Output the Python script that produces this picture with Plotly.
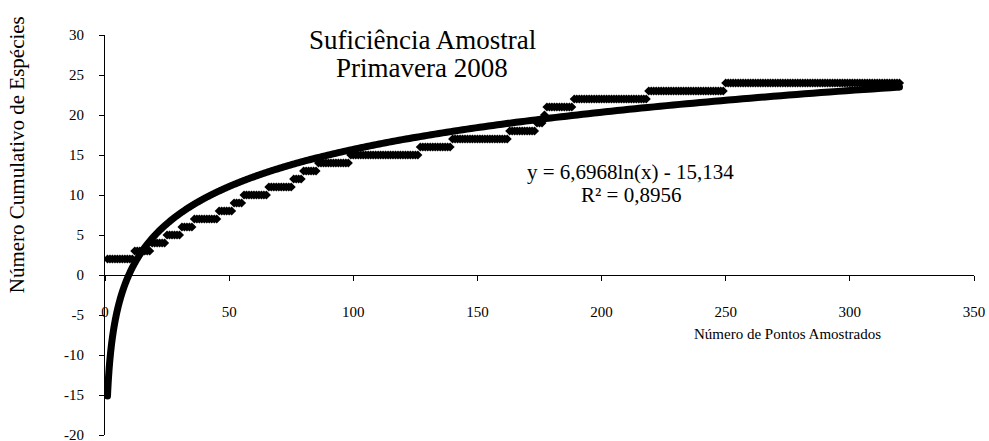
"""Suficiência amostral - curva cumulativa de espécies (Primavera 2008)."""

import numpy as np
import plotly.graph_objects as go

# cumulative species count, stored as levels and how many sample points stay on each level
nivel_especies = [2, 3, 4, 5, 6, 7, 8, 9, 10, 11, 12, 13, 14, 15, 16, 17, 18, 19, 20, 21, 22, 23, 24]
pontos_por_nivel = [11, 7, 6, 6, 5, 10, 6, 4, 10, 10, 4, 6, 13, 28, 13, 23, 11, 3, 1, 11, 30, 31, 71]

# logarithmic trendline reported on the chart
coef_a = 6.6968
coef_b = -15.134
r_quadrado = 0.8956

x_ticks = [0, 50, 100, 150, 200, 250, 300, 350]
y_ticks = [-20, -15, -10, -5, 0, 5, 10, 15, 20, 25, 30]
y_tick_labels = ['-20', '-15', '-10', '-5', '0', '5', '10', '15', '20', '25', '30']

especies = np.repeat(nivel_especies, pontos_por_nivel)
pontos = np.arange(1, len(especies) + 1)

# trendline sampled densely near x=1 where the log curve is steep
x_trend = np.geomspace(1, pontos[-1], 500)
y_trend = coef_a * np.log(x_trend) + coef_b

FONT = 'Liberation Serif'

fig = go.Figure()

fig.add_trace(go.Scatter(
    x=pontos,
    y=especies,
    mode='markers',
    marker=dict(symbol='diamond', size=7, color='black'),
    showlegend=False
))

fig.add_trace(go.Scatter(
    x=x_trend,
    y=y_trend,
    mode='lines',
    line=dict(color='black', width=7, simplify=False),
    showlegend=False
))

# round-looking ends of the trendline
fig.add_trace(go.Scatter(
    x=[x_trend[0], x_trend[-1]],
    y=[y_trend[0], y_trend[-1]],
    mode='markers',
    marker=dict(symbol='circle', size=7, color='black'),
    showlegend=False
))


def fmt(v, casas):
    return f'{v:.{casas}f}'.replace('.', ',')


eq_text = f'y = {fmt(coef_a, 4)}ln(x) - {fmt(-coef_b, 3)}'
r2_text = f'R² = {fmt(r_quadrado, 4)}'

fig.update_layout(
    width=989,
    height=441,
    margin=dict(l=105, r=15, t=35, b=6),
    plot_bgcolor='white',
    paper_bgcolor='white',
    font=dict(family=FONT, color='black'),
    xaxis=dict(
        range=[0, 350],
        tickvals=x_ticks,
        showgrid=False,
        zeroline=False,
        showline=True,
        linecolor='black',
        linewidth=1,
        ticks='outside',
        ticklen=5,
        tickcolor='black',
        anchor='free',
        position=0.4,
        automargin=False,
        ticklabelstandoff=18,
        ticklabeloverflow='allow',
        tickfont=dict(family=FONT, size=15, color='black')
    ),
    yaxis=dict(
        range=[-20, 30],
        tickvals=y_ticks,
        ticktext=y_tick_labels,
        showgrid=False,
        zeroline=False,
        showline=True,
        linecolor='black',
        linewidth=1,
        ticks='outside',
        ticklen=5,
        tickcolor='black',
        automargin=False,
        ticklabelstandoff=12,
        ticklabeloverflow='allow',
        tickfont=dict(family=FONT, size=15, color='black')
    ),
    annotations=[
        dict(x=127.7, y=29.4, xref='x', yref='y', showarrow=False,
             text='Suficiência Amostral', height=25,
             font=dict(family=FONT, size=27, color='black')),
        dict(x=127.7, y=26.0, xref='x', yref='y', showarrow=False,
             text='Primavera 2008', height=25,
             font=dict(family=FONT, size=27, color='black')),
        dict(x=211.8, y=12.9, xref='x', yref='y', showarrow=False,
             text=eq_text, font=dict(family=FONT, size=21, color='black')),
        dict(x=211.8, y=10.0, xref='x', yref='y', showarrow=False,
             text=r2_text, font=dict(family=FONT, size=21, color='black')),
        dict(x=274.7, y=-7.4, xref='x', yref='y', showarrow=False,
             text='Número de Pontos Amostrados',
             font=dict(family=FONT, size=15, color='black')),
        dict(x=-0.101, y=15, xref='paper', yref='y', showarrow=False,
             xanchor='center', yanchor='middle',
             text='Número Cumulativo de Espécies', textangle=-90,
             font=dict(family=FONT, size=21, color='black')),
    ]
)

fig.write_html('out.html', config={'displayModeBar': False},
               post_script="document.body.style.margin='0';")
